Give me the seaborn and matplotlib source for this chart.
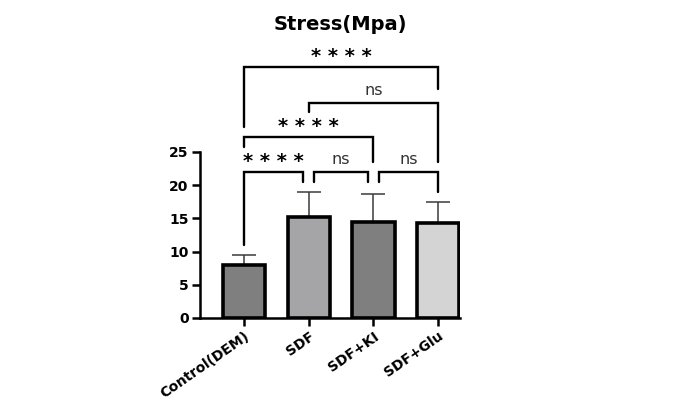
import numpy as np
import pandas as pd
import matplotlib
matplotlib.use("Agg")
import matplotlib.pyplot as plt
import seaborn as sns

# --- Data ---
groups = ["Control(DEM)", "SDF", "SDF+KI", "SDF+Glu"]
means = [8.0, 15.2, 14.5, 14.3]
sds = [1.5, 3.8, 4.2, 3.2]
colors = ["#7f7f7f", "#a4a4a8", "#7f7f7f", "#d4d4d4"]

# comparisons: (left x, right x, label, bar height, left leg end, right leg end, text y)
comparisons = [
    (0.0, 0.92, "* * * *", 22.0, 11.0, 20.5, 23.5),
    (1.08, 1.92, "ns", 22.0, 20.5, 20.5, 23.9),
    (2.08, 3.0, "ns", 22.0, 20.5, 19.0, 23.9),
    (0.0, 2.0, "* * * *", 27.3, 25.8, 23.5, 28.8),
    (1.0, 3.0, "ns", 32.4, 31.0, 23.5, 34.3),
    (0.0, 3.0, "* * * *", 37.8, 28.8, 34.5, 39.3),
]

df = pd.DataFrame({"group": groups, "mean": means})

sns.set_style("ticks")
plt.rcParams["font.family"] = ["DejaVu Sans"]
plt.rcParams["text.color"] = "black"
plt.rcParams["xtick.color"] = "black"
plt.rcParams["ytick.color"] = "black"
plt.rcParams["axes.edgecolor"] = "black"

fig = plt.figure(figsize=(6.84, 4.08), dpi=100)
ax = fig.add_axes([0.292, 0.2206, 0.381, 0.407])

sns.barplot(data=df, x="group", y="mean", hue="group", palette=colors,
            legend=False, width=0.65, edgecolor="black", linewidth=2.6,
            ax=ax, zorder=3)

# upper-only error bars
xs = np.arange(len(groups))
ax.errorbar(xs, means, yerr=[np.zeros(len(sds)), sds], fmt="none",
            ecolor="#3a3a3a", elinewidth=1.1, capsize=8.5, capthick=1.1, zorder=2)

ax.set_xlim(-0.68, 3.34)
ax.set_ylim(0, 25)
ax.set_yticks([0, 5, 10, 15, 20, 25])
ax.set_xlabel("")
ax.set_ylabel("")
for side in ["top", "right"]:
    ax.spines[side].set_visible(False)
for side in ["left", "bottom"]:
    ax.spines[side].set_linewidth(1.8)
ax.tick_params(axis="both", width=1.8, length=6, labelsize=10, pad=2)
ax.set_xticks(xs)
ax.set_xticklabels(groups, rotation=35, ha="right", rotation_mode="anchor",
                   fontweight="bold")
for lab in ax.get_yticklabels():
    lab.set_fontweight("bold")

# significance brackets
for i, j, label, h, l_end, r_end, ty in comparisons:
    ax.plot([i, i, j, j], [l_end, h, h, r_end], color="black", lw=1.7,
            clip_on=False, solid_joinstyle="miter")
    if label == "ns":
        ax.text((i + j) / 2, ty, label, ha="center", va="center",
                fontsize=11.5, color="#333333", clip_on=False)
    else:
        ax.text((i + j) / 2, ty, label, ha="center", va="center",
                fontsize=14, fontweight="bold", color="black", clip_on=False)

fig.text(0.497, 0.94, "Stress(Mpa)", ha="center", va="center",
         fontsize=14, fontweight="bold")

fig.savefig("out.png", dpi=100)
